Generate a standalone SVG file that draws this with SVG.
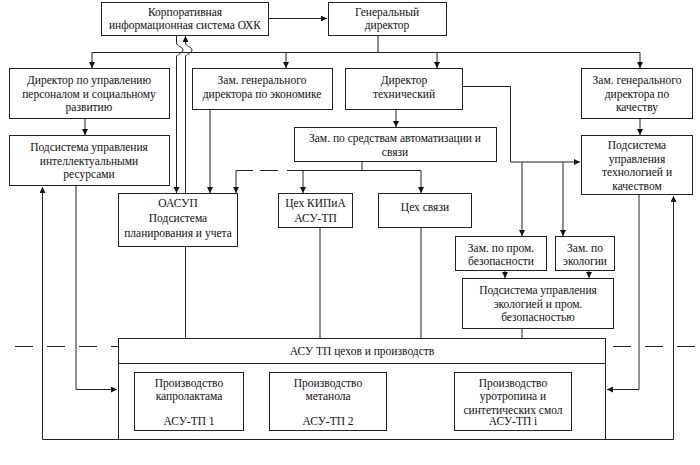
<svg xmlns="http://www.w3.org/2000/svg" width="700" height="465" viewBox="0 0 700 465">
<style>
.box{fill:#fff;stroke:#222;stroke-width:1}
.t{font-family:"Liberation Serif","Times New Roman",serif;font-size:11.5px;fill:#111;text-anchor:middle}
.c{fill:none;stroke:#222;stroke-width:1}
.a{marker-end:url(#ah)}
.d{fill:none;stroke:#222;stroke-width:1;stroke-dasharray:18 14}
</style>
<defs>
<marker id="ah" markerUnits="userSpaceOnUse" markerWidth="7" markerHeight="7" refX="6" refY="3" orient="auto">
<path d="M0,0 L6,3 L0,6 z" fill="#111"/>
</marker>
</defs>
<rect width="700" height="465" fill="#fff"/>

<g id="connectors">
<!-- top -->
<path class="c a" d="M269,18.5 H327"/>
<path class="c" d="M378,35 V52.5"/>
<path class="c" d="M92,52.5 H640"/>
<path class="c a" d="M92,52.5 V68"/>
<path class="c a" d="M286,52.5 V68"/>
<path class="c a" d="M437,52.5 V68"/>
<path class="c a" d="M640,52.5 V68"/>
<!-- wavy lines -->
<path class="c a" d="M176.5,35 V43 C176.5,46 183,47 183,50 C183,53 176.5,54 176.5,57 V193"/>
<path class="c a" d="M185.5,247 V57 C185.5,54 192,53 192,50 C192,47 185.5,46 185.5,43 V36"/>
<!-- left column -->
<path class="c a" d="M85,119 V135"/>
<path class="c a" d="M210,110 V193"/>
<!-- tech director -->
<path class="c a" d="M396,110 V127"/>
<path class="c a" d="M463,86.5 H510.5 V162 H580"/>
<path class="c a" d="M522,162 V236"/>
<path class="c a" d="M563,162 V236"/>
<path class="c a" d="M640,119 V135"/>
<!-- automation deputy -->
<path class="c" d="M362,162 V170.5"/>
<path class="c" d="M287,170.5 H421"/>
<path class="c a" d="M236,170.5 V193"/>
<path class="c" d="M236,170.5 H253 M260,170.5 H278"/>
<path class="c a" d="M303,170.5 V193"/>
<path class="c a" d="M421,170.5 V193"/>
<!-- ecology -->
<path class="c a" d="M505,271 V278"/>
<path class="c a" d="M589,271 V278"/>
<path class="c" d="M522,329 V338"/>
<!-- to ASU TP -->
<path class="c" d="M320,228 V338"/>
<path class="c" d="M421,228 V338"/>
<path class="c" d="M185.5,247 V363"/>
<!-- side loops -->
<path class="c a" d="M76,186 V389.5 H117"/>
<path class="c a" d="M118,439.5 H42.5 V187"/>
<path class="c a" d="M639,195 V389.5 H607"/>
<path class="c a" d="M606,439.5 H673.5 V196"/>
<!-- dashed boundary -->
<path class="d" d="M15,346.5 H118"/>
<path class="d" d="M613,346.5 H700"/>
</g>

<g id="n-korp">
<rect class="box" x="101.5" y="2.5" width="167" height="33"/>
<text class="t" x="185" y="16">Корпоративная</text>
<text class="t" x="185" y="29">информационная система ОХК</text>
</g>
<g id="n-gendir">
<rect class="box" x="328.5" y="2.5" width="118" height="33"/>
<text class="t" x="387" y="16">Генеральный</text>
<text class="t" x="387" y="29">директор</text>
</g>
<g id="n-hr">
<rect class="box" x="9.5" y="68.5" width="160" height="50"/>
<text class="t" x="89" y="84">Директор по управлению</text>
<text class="t" x="89" y="97.5">персоналом и социальному</text>
<text class="t" x="89" y="111">развитию</text>
</g>
<g id="n-econ">
<rect class="box" x="192.5" y="68.5" width="140" height="41"/>
<text class="t" x="262" y="84">Зам. генерального</text>
<text class="t" x="262" y="97.5">директора по экономике</text>
</g>
<g id="n-tech">
<rect class="box" x="345.5" y="68.5" width="117" height="41"/>
<text class="t" x="404" y="84">Директор</text>
<text class="t" x="404" y="97.5">технический</text>
</g>
<g id="n-quality">
<rect class="box" x="581.5" y="68.5" width="111" height="50"/>
<text class="t" x="637" y="84">Зам. генерального</text>
<text class="t" x="637" y="97.5">директора по</text>
<text class="t" x="637" y="111">качеству</text>
</g>
<g id="n-intel">
<rect class="box" x="9.5" y="135.5" width="160" height="50"/>
<text class="t" x="89" y="151">Подсистема управления</text>
<text class="t" x="89" y="164.5">интеллектуальными</text>
<text class="t" x="89" y="178">ресурсами</text>
</g>
<g id="n-auto">
<rect class="box" x="294.5" y="127.5" width="202" height="34"/>
<text class="t" x="395" y="142">Зам. по средствам автоматизации и</text>
<text class="t" x="395" y="156">связи</text>
</g>
<g id="n-techq">
<rect class="box" x="581.5" y="135.5" width="111" height="59"/>
<text class="t" x="637" y="149">Подсистема</text>
<text class="t" x="637" y="162.5">управления</text>
<text class="t" x="637" y="176">технологией и</text>
<text class="t" x="637" y="189.5">качеством</text>
</g>
<g id="n-oasup">
<rect class="box" x="118.5" y="193.5" width="119" height="53"/>
<text class="t" x="178" y="207">ОАСУП</text>
<text class="t" x="178" y="222">Подсистема</text>
<text class="t" x="178" y="237">планирования и учета</text>
</g>
<g id="n-kip">
<rect class="box" x="278.5" y="193.5" width="74" height="34"/>
<text class="t" x="315.5" y="207">Цех КИПиА</text>
<text class="t" x="315.5" y="222">АСУ-ТП</text>
</g>
<g id="n-svyaz">
<rect class="box" x="378.5" y="193.5" width="93" height="34"/>
<text class="t" x="425" y="211">Цех связи</text>
</g>
<g id="n-prom">
<rect class="box" x="455.5" y="236.5" width="91" height="34"/>
<text class="t" x="501" y="252">Зам. по пром.</text>
<text class="t" x="501" y="265">безопасности</text>
</g>
<g id="n-eco">
<rect class="box" x="555.5" y="236.5" width="59" height="34"/>
<text class="t" x="585" y="252">Зам. по</text>
<text class="t" x="585" y="265">экологии</text>
</g>
<g id="n-ecosub">
<rect class="box" x="462.5" y="278.5" width="151" height="50"/>
<text class="t" x="538" y="294">Подсистема управления</text>
<text class="t" x="538" y="307.5">экологией и пром.</text>
<text class="t" x="538" y="321">безопасностью</text>
</g>
<g id="n-asutp">
<rect class="box" x="118.5" y="338.5" width="487" height="101"/>
<line class="c" x1="118.5" y1="363.5" x2="605.5" y2="363.5"/>
<text class="t" x="362" y="355">АСУ ТП цехов и производств</text>
</g>
<g id="n-kapro">
<rect class="box" x="134.5" y="372.5" width="109" height="58"/>
<text class="t" x="189" y="387">Производство</text>
<text class="t" x="189" y="400">капролактама</text>
<text class="t" x="189" y="425">АСУ-ТП 1</text>
</g>
<g id="n-metanol">
<rect class="box" x="269.5" y="372.5" width="117" height="58"/>
<text class="t" x="328" y="387">Производство</text>
<text class="t" x="328" y="400">метанола</text>
<text class="t" x="328" y="425">АСУ-ТП 2</text>
</g>
<g id="n-urotropin">
<rect class="box" x="454.5" y="372.5" width="117" height="58"/>
<text class="t" x="513" y="387">Производство</text>
<text class="t" x="513" y="400">уротропина и</text>
<text class="t" x="513" y="414">синтетических смол</text>
<text class="t" x="513" y="425">АСУ-ТП i</text>
</g>
</svg>
